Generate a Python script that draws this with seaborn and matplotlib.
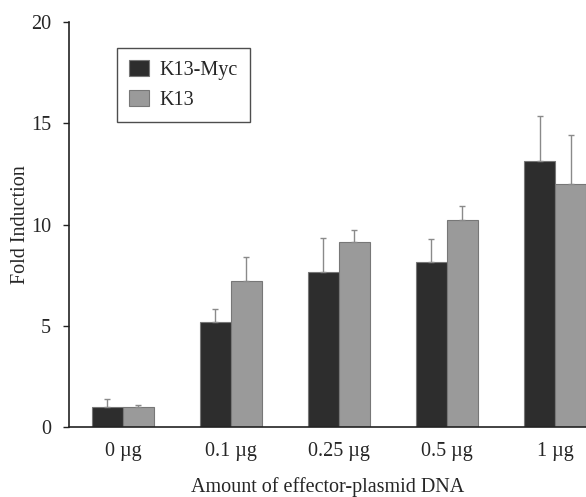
import pandas as pd
import matplotlib
matplotlib.use("Agg")
import matplotlib.pyplot as plt
import seaborn as sns

# datos
dosis = ["0 µg", "0.1 µg", "0.25 µg", "0.5 µg", "1 µg"]
k13_myc = [1.0, 5.17, 7.64, 8.16, 13.15]
k13_myc_err = [0.38, 0.66, 1.71, 1.11, 2.22]
k13 = [1.0, 7.21, 9.15, 10.22, 12.0]
k13_err = [0.1, 1.17, 0.58, 0.68, 2.4]
series = ["K13-Myc", "K13"]

df = pd.DataFrame({
    "dosis": dosis * 2,
    "valor": k13_myc + k13,
    "serie": [series[0]] * len(dosis) + [series[1]] * len(dosis),
})
errores = {series[0]: k13_myc_err, series[1]: k13_err}

sns.set_style("white")
plt.rcParams["font.family"] = ["Liberation Serif", "DejaVu Serif"]
plt.rcParams["font.size"] = 14.5

fig = plt.figure(figsize=(5.86, 4.97), dpi=100)
ax = fig.add_axes([0.1177, 0.1408, 1 - 0.1177, 0.9557 - 0.1408])

sns.barplot(data=df, x="dosis", y="valor", hue="serie", palette=["#2d2d2d", "#9a9a9a"],
            width=0.574, edgecolor="#777777", linewidth=0.8, ax=ax, errorbar=None)

# barras de error (solo hacia arriba)
for cont, nombre in zip(ax.containers, series):
    xs = [p.get_x() + p.get_width() / 2 for p in cont.patches]
    ys = [p.get_height() for p in cont.patches]
    ax.errorbar(xs, ys, yerr=[[0] * len(ys), errores[nombre]], fmt="none",
                ecolor="#8a8a8a", elinewidth=1.0, capsize=2.5, capthick=1.0, zorder=1)

ax.set_xlim(-0.5, 4.287)
ax.set_ylim(0, 20)
ax.set_yticks([0, 5, 10, 15, 20])
ax.set_xlabel("Amount of effector-plasmid DNA", labelpad=12)
ax.set_ylabel("Fold Induction")
ax.yaxis.set_label_coords(-0.075, 0.5)
for s in ["top", "right"]:
    ax.spines[s].set_visible(False)
for s in ["left", "bottom"]:
    ax.spines[s].set_color("#222222")
    ax.spines[s].set_linewidth(1.2)
ax.tick_params(axis="y", left=True, length=4, width=1, color="#222222", pad=9)
ax.tick_params(axis="x", bottom=False, pad=7)

leg = ax.legend(loc="upper left", bbox_to_anchor=(0.093, 0.936), frameon=True,
                fancybox=False, edgecolor="#222222", handlelength=1.0, handleheight=0.85,
                handletextpad=0.5, borderpad=0.6, labelspacing=0.5, borderaxespad=0)
leg.get_frame().set_linewidth(1.0)
leg.set_title(None)

fig.savefig("out.png", dpi=100)
